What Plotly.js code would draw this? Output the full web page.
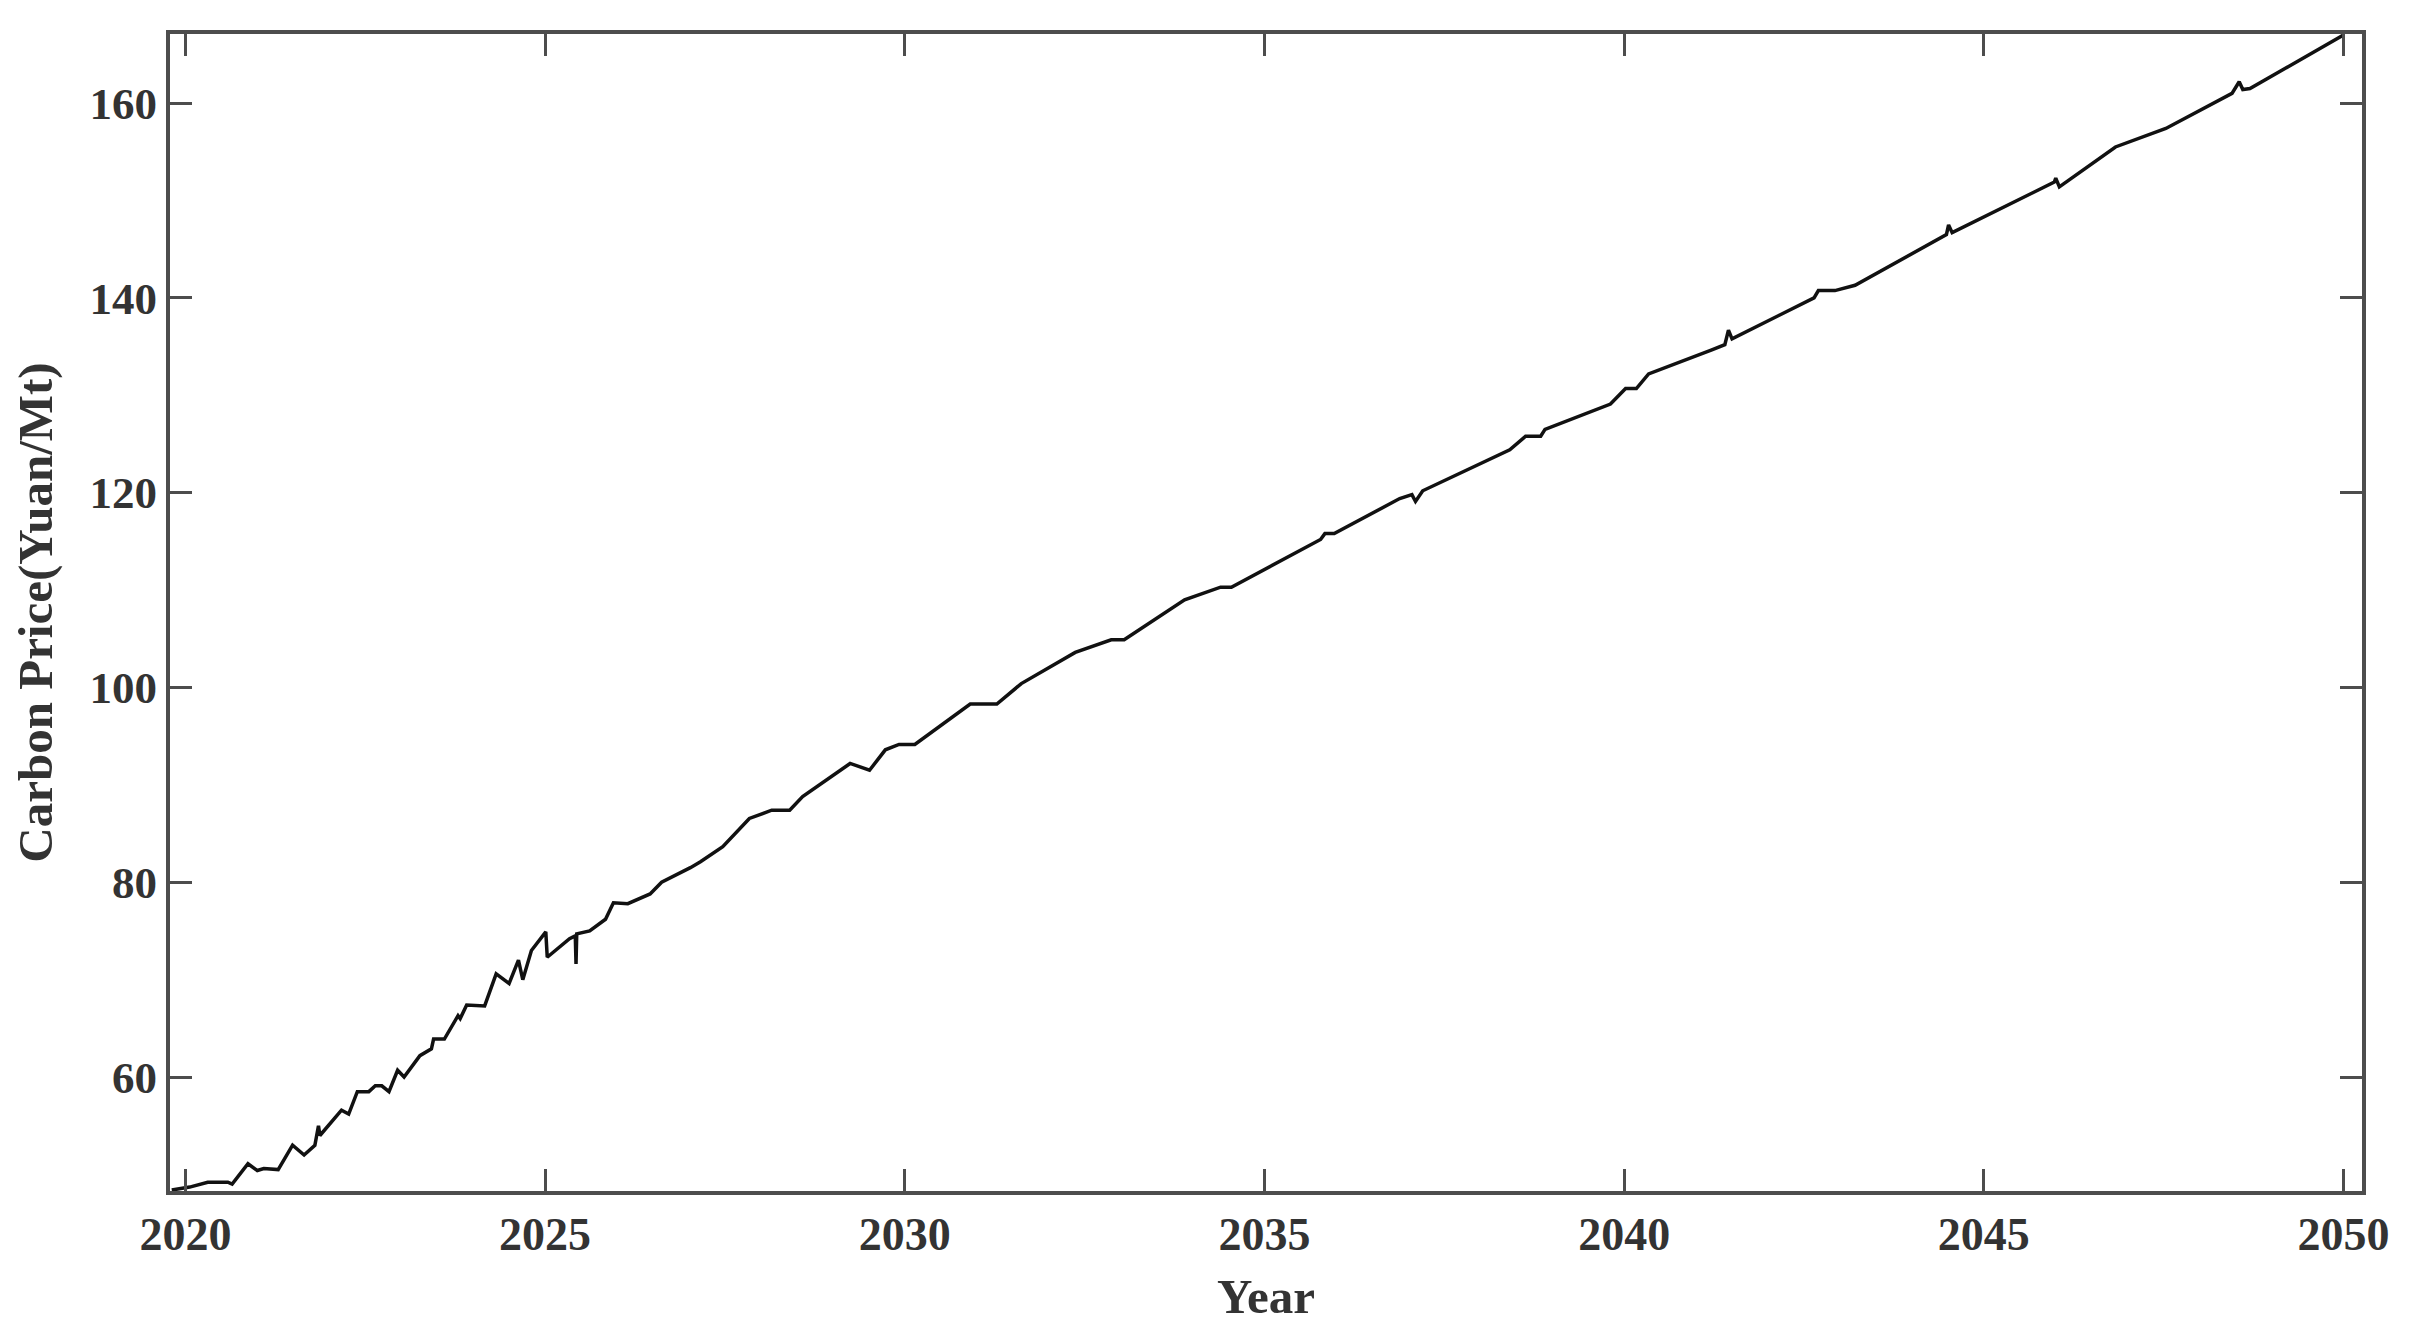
<!DOCTYPE html>
<html lang="en">
    <head>
        <meta charset="UTF-8">
        <title>Carbon Price Forecast</title>
        <script src="https://cdn.plot.ly/plotly-3.0.1.min.js"></script>
        <style>
            body { margin: 0; background: #fff; }
            #plot { width: 2416px; height: 1332px; }
        </style>
    </head>
    <body>

        <div id="plot"></div>

        <script>
        // Values (year, carbon price)
        const years = [
            2019.81, 2020.06, 2020.31, 2020.59, 2020.65, 2020.87, 2021.00, 2021.09, 2021.29, 2021.49,
            2021.65, 2021.80, 2021.85, 2021.87, 2022.17, 2022.27, 2022.39, 2022.55, 2022.64, 2022.73,
            2022.83, 2022.95, 2023.04, 2023.26, 2023.42, 2023.45, 2023.60, 2023.79, 2023.82, 2023.91,
            2024.16, 2024.32, 2024.50, 2024.63, 2024.69, 2024.81, 2025.01, 2025.03, 2025.34, 2025.42,
            2025.43, 2025.44, 2025.62, 2025.84, 2025.95, 2026.15, 2026.46, 2026.62, 2027.02, 2027.16,
            2027.47, 2027.84, 2028.15, 2028.40, 2028.58, 2029.24, 2029.51, 2029.73, 2029.92, 2030.14,
            2030.91, 2031.28, 2031.62, 2032.37, 2032.87, 2033.05, 2033.89, 2034.39, 2034.54, 2035.78,
            2035.84, 2035.97, 2036.88, 2037.05, 2037.10, 2037.20, 2038.41, 2038.63, 2038.84, 2038.90,
            2039.81, 2040.02, 2040.17, 2040.34, 2041.21, 2041.40, 2041.45, 2041.50, 2042.64, 2042.70,
            2042.93, 2043.21, 2044.48, 2044.51, 2044.56, 2045.98, 2046.00, 2046.05, 2046.83, 2047.53,
            2048.45, 2048.55, 2048.60, 2048.70, 2050.00
        ];
        const prices = [
            48.4, 48.7, 49.2, 49.2, 49.0, 51.1, 50.4, 50.6, 50.5, 53.0,
            52.0, 53.0, 55.0, 54.0, 56.6, 56.2, 58.5, 58.5, 59.1, 59.1,
            58.5, 60.7, 60.0, 62.2, 62.9, 63.9, 63.9, 66.3, 66.0, 67.4,
            67.3, 70.6, 69.6, 72.0, 70.0, 73.0, 74.9, 72.3, 74.2, 74.5,
            71.6, 74.7, 75.0, 76.2, 77.9, 77.8, 78.8, 80.0, 81.5, 82.1,
            83.65, 86.55, 87.4, 87.4, 88.8, 92.2, 91.5, 93.6, 94.15, 94.15,
            98.3, 98.3, 100.4, 103.6, 104.9, 104.9, 109.0, 110.3, 110.3, 115.2,
            115.8, 115.8, 119.4, 119.8, 119.1, 120.2, 124.4, 125.8, 125.8, 126.5,
            129.1, 130.7, 130.7, 132.2, 134.65, 135.2, 136.7, 135.8, 140.0, 140.75,
            140.75, 141.3, 146.5, 147.5, 146.7, 151.9, 152.3, 151.4, 155.5, 157.4,
            161.0, 162.2, 161.4, 161.5, 167.0
        ];

        // Axis ticks
        const xTicks = [2020, 2025, 2030, 2035, 2040, 2045, 2050];
        const yTicks = [60, 80, 100, 120, 140, 160];

        const serif = 'Liberation Serif, Times New Roman, serif';
        const textColor = '#333';
        const axisColor = '#4d4d4d';

        const trace = {
            x: years,
            y: prices,
            type: 'scatter',
            mode: 'lines',
            line: { color: '#111', width: 3.5 },
            hoverinfo: 'x+y'
        };

        const axisCommon = {
            showline: true,
            linecolor: axisColor,
            linewidth: 4,
            mirror: 'ticks',
            ticks: 'inside',
            ticklen: 22,
            tickwidth: 3,
            tickcolor: axisColor,
            showgrid: false,
            zeroline: false
        };

        const layout = {
            width: 2416,
            height: 1332,
            margin: { l: 170, r: 54, t: 34, b: 141 },
            paper_bgcolor: '#fff',
            plot_bgcolor: '#fff',
            showlegend: false,
            xaxis: Object.assign({}, axisCommon, {
                range: [2019.786, 2050.257],
                tickvals: xTicks,
                ticktext: xTicks.map(String),
                tickfont: { family: serif, size: 46, color: textColor, weight: 'bold' },
                title: {
                    text: 'Year',
                    font: { family: serif, size: 49, color: textColor, weight: 'bold' },
                    standoff: 20
                }
            }),
            yaxis: Object.assign({}, axisCommon, {
                range: [48.3, 167.1],
                tickvals: yTicks,
                ticktext: yTicks.map(String),
                tickfont: { family: serif, size: 45, color: textColor, weight: 'bold' },
                title: {
                    text: 'Carbon Price(Yuan/Mt)',
                    font: { family: serif, size: 49, color: textColor, weight: 'bold' },
                    standoff: 22
                }
            })
        };

        Plotly.newPlot('plot', [trace], layout, { staticPlot: true });
        </script>

    </body>
</html>
